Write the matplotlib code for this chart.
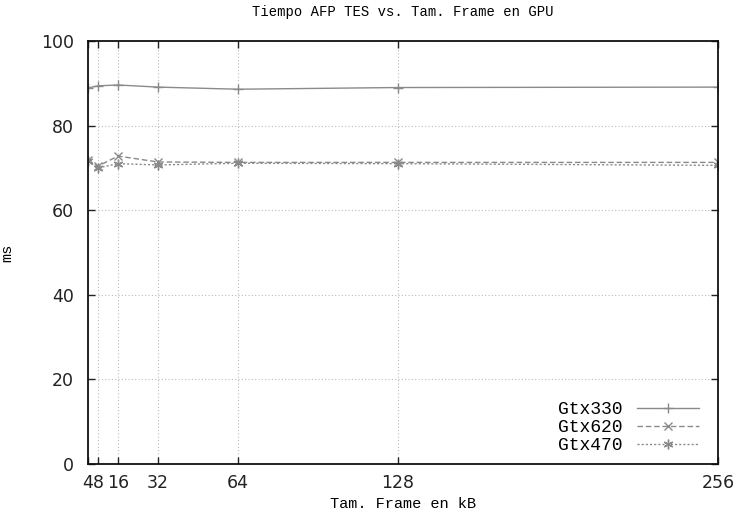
import matplotlib
matplotlib.use("Agg")
import matplotlib.pyplot as plt

frame_kb = [4, 8, 16, 32, 64, 128, 256]
tick_labels = ["4", "8", "16", "32", "64", "128", "256"]
gtx330 = [88.9, 89.4, 89.6, 89.1, 88.6, 89.0, 89.1]
gtx620 = [71.9, 70.4, 72.8, 71.4, 71.3, 71.3, 71.3]
gtx470 = [71.6, 70.0, 71.0, 70.7, 71.1, 71.0, 70.6]

mono = "Liberation Mono"

fig = plt.figure(figsize=(7.36, 5.28), dpi=100)
ax = fig.add_axes([88/736, 64/528, (718-88)/736, (464-41)/528])

ax.plot(frame_kb, gtx330, color="#8a8a8a", lw=1.0, ls="-", marker="+", ms=7, mew=1.0, label="Gtx330")
ax.plot(frame_kb, gtx620, color="#8a8a8a", lw=1.0, ls=(0, (4, 2)), marker="x", ms=6, mew=1.0, label="Gtx620")
ax.plot(frame_kb, gtx470, color="#8a8a8a", lw=1.0, ls=(0, (1.5, 1.5)), marker=(6, 2, 0), ms=7, mew=1.0, label="Gtx470")

ax.set_xlim(4, 256)
ax.set_ylim(0, 100)
ax.set_xticks(frame_kb)
ax.set_xticklabels(tick_labels)
ax.set_yticks([0, 20, 40, 60, 80, 100])
ax.tick_params(direction="in", length=5, width=1, top=True, right=True,
               labelsize=12.5, pad=7, colors="#222222")
ax.tick_params(axis="y", pad=10)

ax.grid(True, color="#bbbbbb", ls=(0, (1, 2)), lw=0.8)
for s in ax.spines.values():
    s.set_linewidth(1.3)
    s.set_color("#111111")

ax.set_title("Tiempo AFP TES vs. Tam. Frame en GPU", fontfamily=mono, fontsize=10, pad=18)
ax.set_xlabel("Tam. Frame en kB", fontfamily=mono, fontsize=11, labelpad=4)
ax.set_ylabel("ms", fontfamily=mono, fontsize=11)
ax.yaxis.set_label_coords((14 - 88) / 630, 0.5)

leg = ax.legend(loc="lower right", frameon=False, markerfirst=False,
                prop={"family": mono, "size": 13}, handlelength=3.4,
                handletextpad=0.8, labelspacing=0.05, borderaxespad=0.15,
                bbox_to_anchor=(0.985, 0.0))

fig.savefig("out.png", dpi=100)
